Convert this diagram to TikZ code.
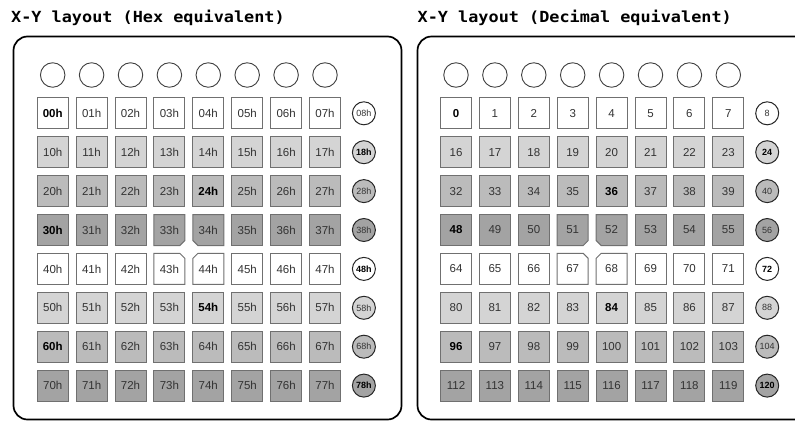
\documentclass[tikz,border=0pt]{standalone}
\usepackage{fontspec}
\setmainfont{Liberation Sans}
\newfontfamily\titlefont[FakeStretch=1.1]{DejaVu Sans Mono}
\usetikzlibrary{shapes.misc}
\definecolor{keyrow0}{HTML}{FFFFFF}
\definecolor{keyrow1}{HTML}{D4D4D4}
\definecolor{keyrow2}{HTML}{BBBBBB}
\definecolor{keyrow3}{HTML}{A3A3A3}
\definecolor{keyedge}{HTML}{707070}
\definecolor{keytext}{HTML}{333333}
\tikzset{myframe/.style={black,line width=1.7pt,rounded corners=14pt}}
\tikzset{mytitle/.style={anchor=base west,inner sep=0pt,font=\titlefont\bfseries\fontsize{15.3}{18}\selectfont}}
\tikzset{mykey/.style={draw=keyedge,line width=1pt,minimum size=31pt,inner sep=0pt,text=keytext,font=\fontsize{11.5}{13}\selectfont}}
\tikzset{mycut/.style={chamfered rectangle,chamfered rectangle corners=#1,chamfered rectangle xsep=2.5pt,chamfered rectangle ysep=2.5pt}}
\tikzset{myled/.style={circle,draw=black!75,line width=0.9pt,fill=white,minimum size=24.5pt,inner sep=0pt}}
\tikzset{myside/.style={circle,draw=black!85,line width=1pt,minimum size=23pt,inner sep=0pt,text=keytext,font=\fontsize{9}{10}\selectfont}}
% plain or bold key labels
\tikzset{keybold0/.style={},keybold1/.style={text=black,font=\bfseries\fontsize{11.5}{13}\selectfont}}
\tikzset{sidebold0/.style={},sidebold1/.style={text=black,font=\bfseries\fontsize{9}{10}\selectfont}}
% the four keys round the centre notch
\tikzset{keycut0/.style={},keycut1/.style={mycut=south east},keycut2/.style={mycut=south west},
  keycut3/.style={mycut=north east},keycut4/.style={mycut=north west}}

\begin{document}
\begin{tikzpicture}[x=1pt,y=-1pt]
	\useasboundingbox (0,0) rectangle (795,421);
	\clip (0,0) rectangle (795,421);

	% Panel frames and titles
	\draw[myframe] (13.5,36.5) rectangle (401.5,419.5);
	\draw[myframe] (417.5,36.5) rectangle (812,419.5);
	\node[mytitle] (hextitle) at (11,22.5) {X-Y layout (Hex equivalent)};
	\node[mytitle] (dectitle) at (417.5,22.5) {X-Y layout (Decimal equivalent)};

	% Top row of round buttons
	\foreach \c in {0,...,7} {
		\node[myled] (hexled-\c) at ({52.7+38.9*\c},75) {};
		\node[myled] (decled-\c) at ({456+38.9*\c},75) {};
	}

	% 8x8 key grid, with the side buttons at the end of each row
	\foreach \r in {0,...,7} {
		\pgfmathtruncatemacro\shade{mod(\r,4)}
		\pgfmathtruncatemacro\sidenum{16*\r+8}
		\pgfmathtruncatemacro\sidebold{mod(\r,3)==1}
		\foreach \c in {0,...,7} {
			\pgfmathtruncatemacro\num{16*\r+\c}
			\pgfmathtruncatemacro\isbold{or(and(\c==0,or(\r==0,or(\r==3,\r==6))),and(\c==4,or(\r==2,\r==5)))}
			\pgfmathtruncatemacro\cut{(\r==3)*(\c==3)+2*(\r==3)*(\c==4)+3*(\r==4)*(\c==3)+4*(\r==4)*(\c==4)}
			\node[mykey,keycut\cut,fill=keyrow\shade,keybold\isbold] (hex-\r-\c) at ({52.7+38.9*\c},{113.3+38.9*\r}) {\r\c h};
			\node[mykey,keycut\cut,fill=keyrow\shade,keybold\isbold] (dec-\r-\c) at ({456+38.9*\c},{113.3+38.9*\r}) {\num};
		}
		\node[myside,fill=keyrow\shade,sidebold\sidebold] (hexside-\r) at (363.9,{113.3+38.9*\r}) {\r8h};
		\node[myside,fill=keyrow\shade,sidebold\sidebold] (decside-\r) at (767.2,{113.3+38.9*\r}) {\sidenum};
	}
\end{tikzpicture}
\end{document}
